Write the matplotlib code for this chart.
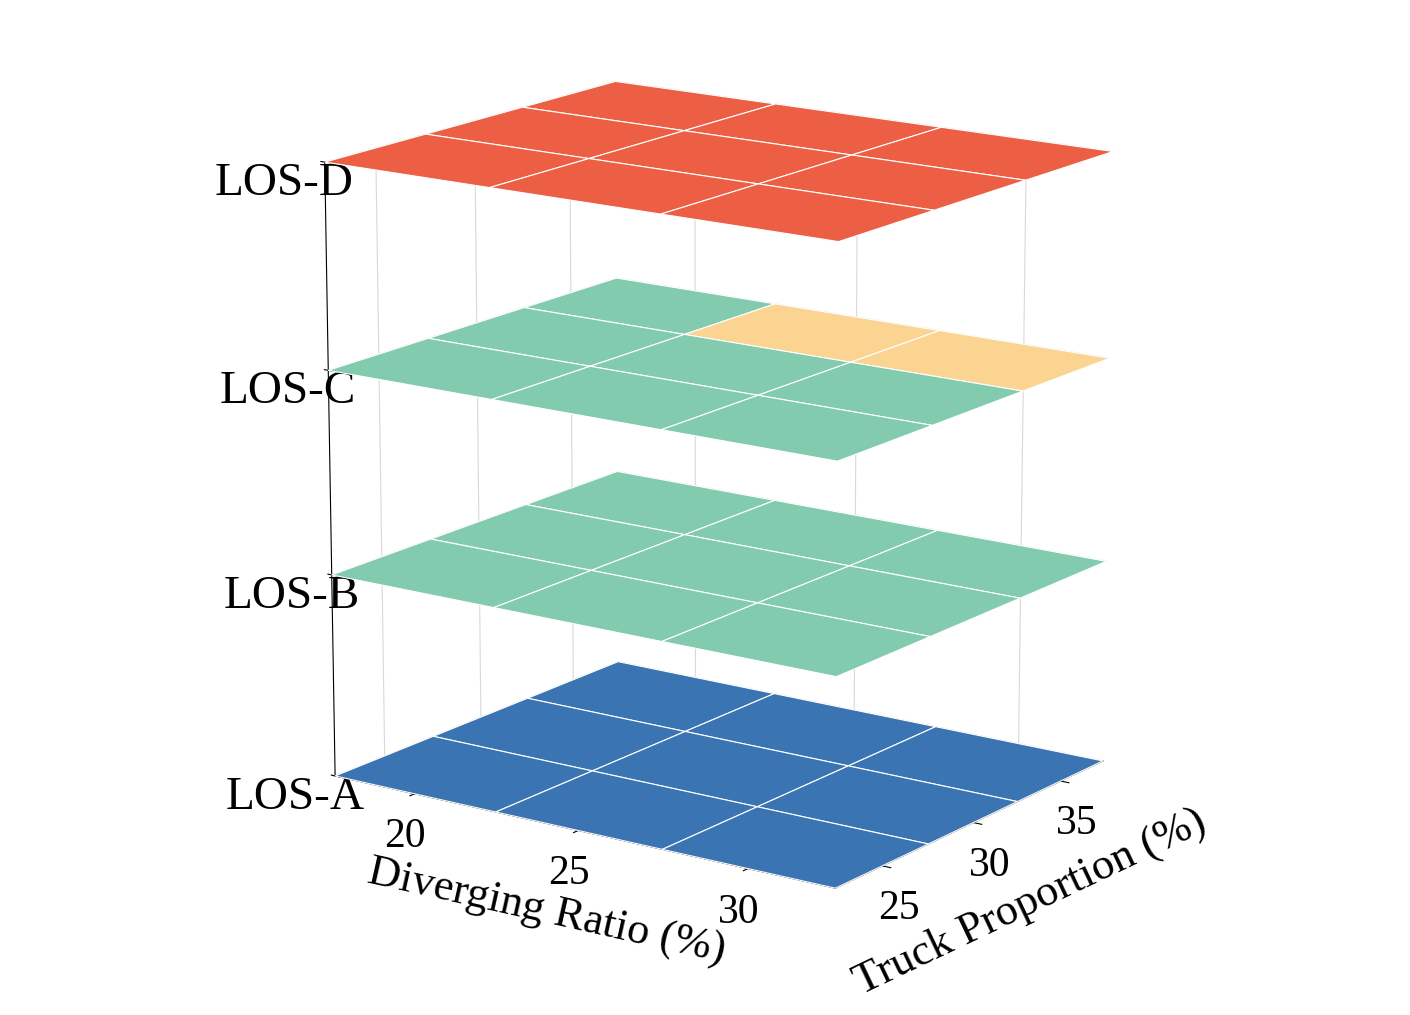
import numpy as np
import matplotlib
matplotlib.use("Agg")
import matplotlib.pyplot as plt

plt.rcParams['font.family'] = ['Liberation Serif', 'DejaVu Serif']

diverging = [20, 25, 30]
truck = [25, 30, 35]
los_levels = ["LOS-A", "LOS-B", "LOS-C", "LOS-D"]
# layer colour codes per (truck row, diverging col): 0 blue,1 green,2 yellow,3 red
layer_codes = [
    [[0, 0, 0], [0, 0, 0], [0, 0, 0]],
    [[1, 1, 1], [1, 1, 1], [1, 1, 1]],
    [[1, 1, 1], [1, 1, 1], [1, 2, 2]],
    [[3, 3, 3], [3, 3, 3], [3, 3, 3]],
]
palette = ["#3b74b2", "#82cbae", "#fbd492", "#ec5f45"]

fig = plt.figure(figsize=(14.1, 10.15), dpi=100)
ax = fig.add_axes([0.0, -0.04, 1.0, 1.13], projection='3d')

xe = np.array([diverging[0] - 2.5] + [d + 2.5 for d in diverging])
ye = np.array([truck[0] - 2.5] + [t + 2.5 for t in truck])
X, Y = np.meshgrid(xe, ye)
for k, codes in enumerate(layer_codes):
    Z = np.full_like(X, k, dtype=float)
    fc = np.empty((3, 3), dtype=object)
    for i in range(3):
        for j in range(3):
            fc[i, j] = palette[codes[i][j]]
    ax.plot_surface(X, Y, Z, facecolors=fc, edgecolor='white', linewidth=0.8,
                    shade=False, antialiased=True)

ax.set_xlim(xe[0], xe[-1])
ax.set_ylim(ye[0], ye[-1])
ax.set_zlim(0, 3)
ax.set_xticks(diverging)
ax.set_yticks(truck)
ax.set_zticks(range(4))
ax.zaxis._axinfo['juggled'] = (1, 2, 0)
ax.set_zticklabels(los_levels, fontsize=34)
ax.tick_params(axis='z', pad=14)
ax.tick_params(axis='x', labelsize=30, pad=6)
ax.tick_params(axis='y', labelsize=30, pad=6)
ax.set_xlabel("Diverging Ratio (%)", fontsize=32, labelpad=26)
ax.set_ylabel("Truck Proportion (%)", fontsize=32, labelpad=26)
ax.view_init(elev=15, azim=-55)
for a in (ax.xaxis, ax.yaxis, ax.zaxis):
    a.set_pane_color((1, 1, 1, 0))
    a._axinfo['grid']['color'] = (0.85, 0.85, 0.85, 1)
    a._axinfo['grid']['linewidth'] = 0.8
ax.set_box_aspect((1.25, 1, 1.3), zoom=0.85)
fig.savefig("out.png", dpi=100)
